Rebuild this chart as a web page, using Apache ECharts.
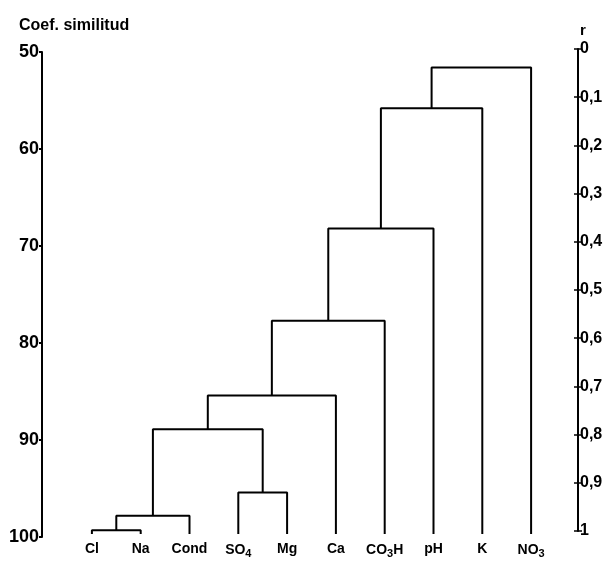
<!DOCTYPE html>
<html><head><meta charset="utf-8">
<script src="https://cdn.jsdelivr.net/npm/echarts@6/dist/echarts.min.js"></script>
<style>html,body{margin:0;padding:0;background:#fff}#c{width:613px;height:561px}</style>
</head><body><div id="c"></div>
<script>
// Leaves (variables) in dendrogram order
var categories = ['Cl', 'Na', 'Cond', 'SO4', 'Mg', 'Ca', 'CO3H', 'pH', 'K', 'NO3'];
var categoryLabels = ['Cl', 'Na', 'Cond', 'SO{s|4}', 'Mg', 'Ca', 'CO{s|3}H', 'pH', 'K', 'NO{s|3}'];
// Merges: node ids 0..9 are leaves, 10.. are clusters in merge order
var mergeLeft   = [0, 10, 3, 11, 13, 14, 15, 16, 17];
var mergeRight  = [1, 2, 4, 12, 5, 6, 7, 8, 9];
var mergeHeight = [99.3, 97.8, 95.4, 88.9, 85.4, 77.7, 68.2, 55.8, 51.6];
var leafBase = 99.7;
// Axis ticks
var coefTicks = [50, 60, 70, 80, 90, 100];
var rTickLabels = ['0', '0,1', '0,2', '0,3', '0,4', '0,5', '0,6', '0,7', '0,8', '0,9', '1'];

var nodeX = [], nodeY = [];
for (var i = 0; i < categories.length; i++) { nodeX.push(i); nodeY.push(leafBase); }
var series = [];
for (var m = 0; m < mergeHeight.length; m++) {
  var a = mergeLeft[m], b = mergeRight[m], h = mergeHeight[m];
  series.push({
    type: 'line', xAxisIndex: 1, yAxisIndex: 0, symbol: 'none', silent: true,
    lineStyle: { color: '#000', width: 2 },
    data: [[nodeX[a], nodeY[a]], [nodeX[a], h], [nodeX[b], h], [nodeX[b], nodeY[b]]]
  });
  nodeX.push((nodeX[a] + nodeX[b]) / 2);
  nodeY.push(h);
}

var FONT = 'Liberation Sans';
var chart = echarts.init(document.getElementById('c'), null, { renderer: 'canvas' });
chart.setOption({
  animation: false,
  backgroundColor: '#fff',
  textStyle: { fontFamily: FONT },
  title: [
    { text: 'Coef. similitud', left: 14, top: 13, textStyle: { fontFamily: FONT, fontSize: 16, fontWeight: 'bold', color: '#000' } },
    { text: 'r', left: 575, top: 18, textStyle: { fontFamily: FONT, fontSize: 15, fontWeight: 'bold', color: '#000' } }
  ],
  grid: [
    { left: 67.5, right: 57.5, top: 52, bottom: 24 },
    { left: 560, right: 35, top: 49, bottom: 30 }
  ],
  xAxis: [
    { type: 'category', gridIndex: 0, data: categoryLabels, boundaryGap: true,
      axisLine: { show: false }, axisTick: { show: false },
      axisLabel: { interval: 0, margin: 5, color: '#000', fontFamily: FONT, fontSize: 14, fontWeight: 'bold',
        rich: { s: { fontSize: 11, fontWeight: 'bold', fontFamily: FONT, color: '#000', verticalAlign: 'bottom', padding: [6, 0, 0, 0] } } } },
    { type: 'value', gridIndex: 0, min: -0.5, max: 9.5, show: false },
    { type: 'value', gridIndex: 1, min: 0, max: 1, show: false }
  ],
  yAxis: [
    { type: 'value', gridIndex: 0, inverse: true, min: coefTicks[0], max: coefTicks[coefTicks.length - 1], interval: 10,
      position: 'left', offset: 25.5, splitLine: { show: false },
      axisLine: { show: true, onZero: false, lineStyle: { color: '#000', width: 2 } },
      axisTick: { show: true, length: 3, lineStyle: { color: '#000', width: 2 } },
      axisLabel: { color: '#000', fontFamily: FONT, fontSize: 18, fontWeight: 'bold', margin: 3 } },
    { type: 'value', gridIndex: 1, inverse: true, min: 0, max: 1, interval: 0.1,
      position: 'right', splitLine: { show: false },
      axisLine: { show: true, onZero: false, lineStyle: { color: '#000', width: 2 } },
      axisTick: { show: true, length: 4, lineStyle: { color: '#000', width: 1.5 } },
      axisLabel: { color: '#000', fontFamily: FONT, fontSize: 16, fontWeight: 'bold', margin: 2,
        formatter: function (v, idx) { return rTickLabels[Math.round(v * 10)]; } } },
    { type: 'value', gridIndex: 1, inverse: true, min: 0, max: 1, interval: 0.1,
      position: 'right', splitLine: { show: false },
      axisLine: { show: false, onZero: false },
      axisTick: { show: true, inside: true, length: 4, lineStyle: { color: '#000', width: 1.5 } },
      axisLabel: { show: false } }
  ],
  series: series
});
</script>
</body></html>
